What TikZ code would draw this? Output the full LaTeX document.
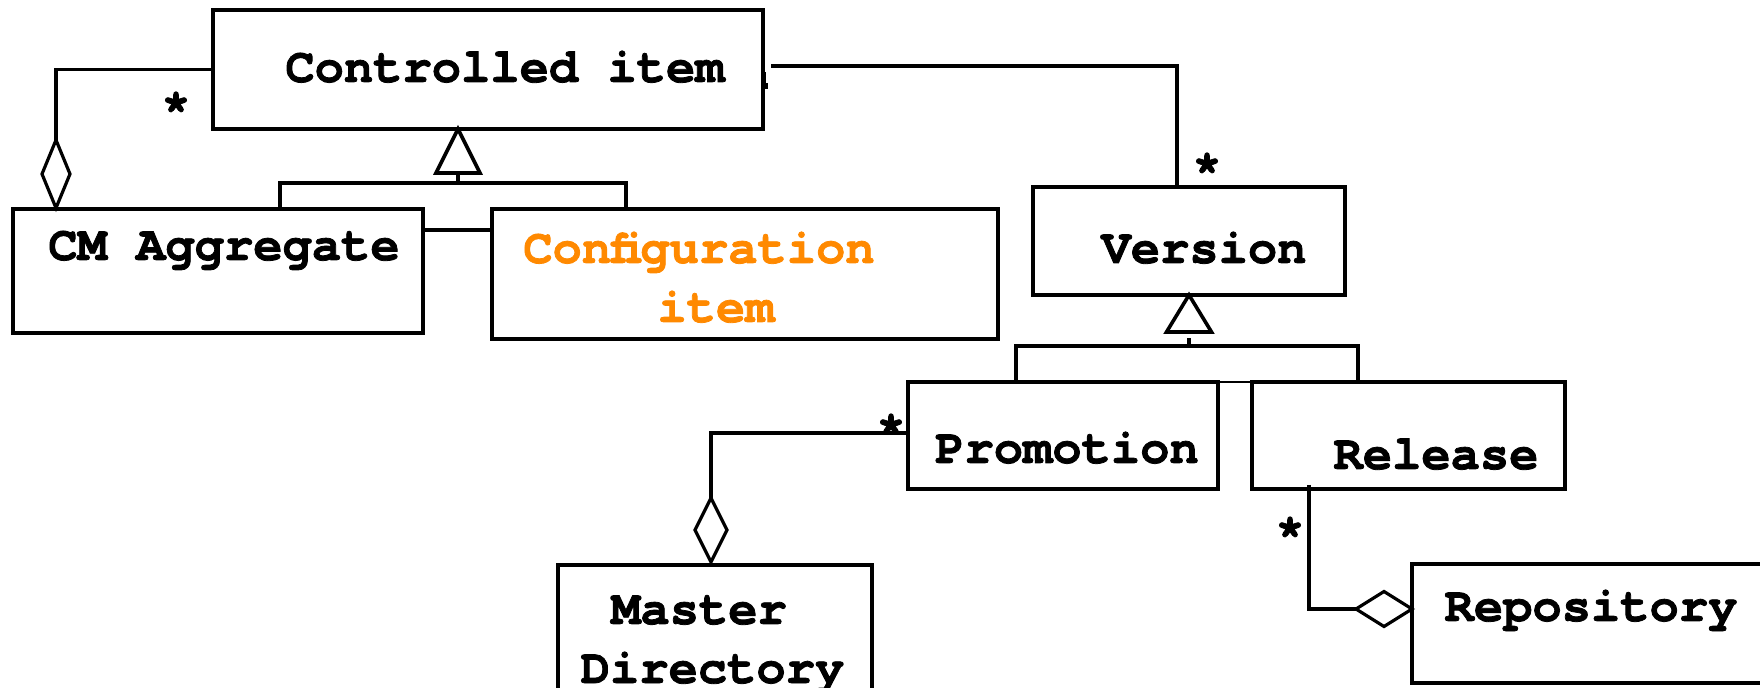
\documentclass[tikz,border=0pt]{standalone}
\usepackage{fontspec}
\newfontfamily\labfont[BoldFeatures={FakeBold=1.6}]{TeX Gyre Cursor}
\usetikzlibrary{shapes.geometric,calc}
\definecolor{cfgorange}{RGB}{255,137,0}
\begin{document}
\begin{tikzpicture}[x=0.5pt,y=-0.5pt,
  box/.style={draw,line width=1.8pt,rectangle,inner sep=0pt,outer sep=0pt},
  lbl/.style={font=\labfont\bfseries\fontsize{24.4}{29}\selectfont,anchor=base,inner sep=0pt},
  mult/.style={font=\labfont\bfseries\fontsize{24.4}{29}\selectfont,inner sep=0pt},
  conn/.style={line width=1.8pt},
  thinconn/.style={line width=1.1pt},
  genhead/.style={draw,line width=1.8pt,fill=white,line join=miter},
  agghead/.style={shape=diamond,draw,line width=1.6pt,fill=white,inner sep=0pt,outer sep=0pt}]

\useasboundingbox (0,0) rectangle (1760,688);
\clip (0,0) rectangle (1760,688);
\fill[white] (0,0) rectangle (1760,688);

% class boxes
\node[box,minimum width=275pt,minimum height=59.5pt] (ci)   at (488,69.5)   {};
\node[box,minimum width=205pt,minimum height=62pt]   (cma)  at (218,271)    {};
\node[box,minimum width=253pt,minimum height=65pt]   (cfg)  at (745,274)    {};
\node[box,minimum width=156pt,minimum height=54pt]   (ver)  at (1189,241)   {};
\node[box,minimum width=155pt,minimum height=53.5pt] (pro)  at (1063,435.5) {};
\node[box,minimum width=156.5pt,minimum height=53.5pt] (rel) at (1408.5,435.5) {};
\node[box,minimum width=157pt,minimum height=77.5pt] (mdir) at (715,642.5)  {};
\node[box,minimum width=194pt,minimum height=59.5pt] (repo) at (1606,623.5) {};

% class names
\node[lbl] (ci-t)   at (505,82)    {Controlled item};
\node[lbl] (cma-t)  at (224,260)   {CM Aggregate};
\node[lbl,text=cfgorange] (cfg-t1) at (699,263) {Configuration};
\node[lbl,text=cfgorange] (cfg-t2) at (716,322) {item};
\node[lbl] (ver-t)  at (1204,263)  {Version};
\node[lbl] (pro-t)  at (1067,463)  {Promotion};
\node[lbl] (rel-t)  at (1436,469)  {Release};
\node[lbl] (mdir-t1) at (699,624)  {Master};
\node[lbl] (mdir-t2) at (712.5,683) {Directory};
\node[lbl] (repo-t) at (1591,621)  {Repository};

% small mark on the right edge of Controlled item
\fill (763,72) rectangle (766,89);
\fill (766,83) rectangle (768,89);

% aggregation: CM Aggregate contains Controlled items
\node[agghead,minimum width=14pt,minimum height=34pt] (d1) at (56,174) {};
\draw[conn] (ci.west) -| (d1.north);
\node[mult] (m1) at (176,107) {*};

% association: Controlled item -- Version
\draw[conn] ($(ci.east)+(8,-3.5)$) -| ([xshift=-6pt]ver.north);
\node[mult] (m2) at (1207,168) {*};

% link between CM Aggregate and Configuration item
\draw[conn] ([yshift=20.5pt]cma.east) coordinate (l1) -- (l1 -| cfg.west);

% generalization: Controlled item
\coordinate (g1) at ([xshift=-15pt]ci.south);
\coordinate (t1) at (458,183);
\draw[conn] ([xshift=31pt]cma.north) |- (t1) -| ([xshift=-59.5pt]cfg.north);
\draw[conn] (t1) -- ++(0,-12);
\draw[genhead] (g1) -- ++(22,44) -- ++(-44,0) -- cycle;

% generalization: Version
\coordinate (t2) at (1189,346);
\draw[conn] ([xshift=54pt]pro.north west) |- (t2) -| ([xshift=-103.5pt]rel.north east);
\draw[thinconn] (pro.north east) -- (rel.north west);
\draw[conn] (t2) -- ++(0,-8);
\draw[genhead] (ver.south) -- ++(22.5,37) -- ++(-45,0) -- cycle;

% aggregation: Master Directory contains Promotions
\node[agghead,minimum width=16pt,minimum height=32pt] (d2) at (711,530) {};
\draw[conn] ([yshift=1.2pt]pro.west) -| (d2.north);
\node[mult] (m3) at (891,429) {*};

% aggregation: Repository contains Releases
\node[agghead,minimum width=28pt,minimum height=17.5pt] (d3) at (1384,609) {};
\draw[conn] ([xshift=-49.75pt,yshift=2pt]rel.south) |- (d3.west);
\node[mult] (m4) at (1290,532) {*};
\end{tikzpicture}
\end{document}
